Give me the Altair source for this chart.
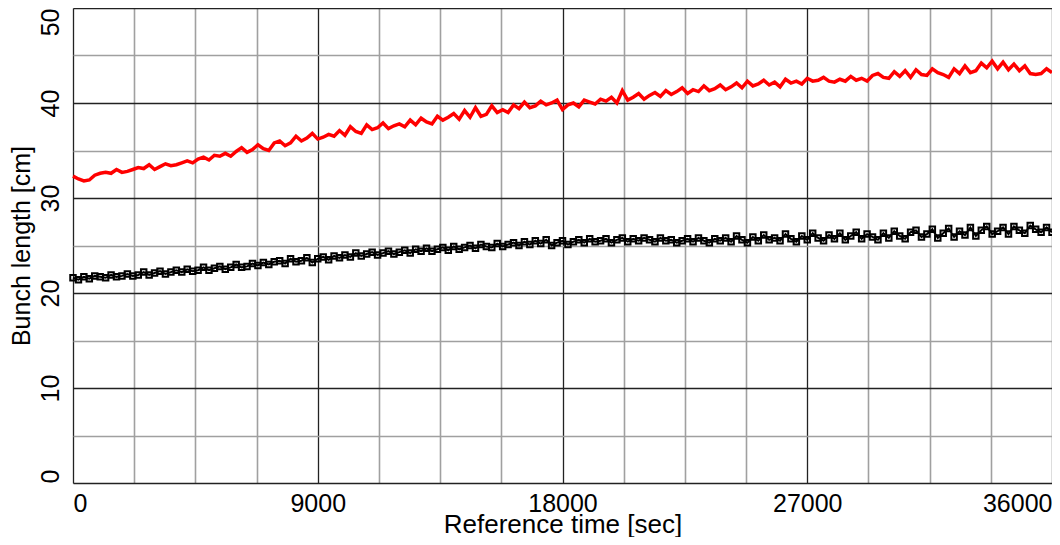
import altair as alt
import pandas as pd

STEP = 200  # seconds between samples
red_vals = [
    32.3, 32.0, 31.8, 31.9, 32.4, 32.6, 32.7, 32.6, 33.0, 32.7,
    32.8, 33.0, 33.2, 33.1, 33.5, 33.0, 33.3, 33.6, 33.4, 33.5,
    33.7, 33.9, 33.7, 34.1, 34.3, 34.0, 34.5, 34.4, 34.7, 34.4,
    34.9, 35.3, 34.8, 35.1, 35.6, 35.2, 35.0, 35.8, 36.0, 35.5,
    35.8, 36.5, 36.0, 36.3, 36.8, 36.2, 36.4, 36.7, 36.5, 37.1,
    36.6, 37.5, 37.0, 36.8, 37.7, 37.2, 37.4, 37.9, 37.3, 37.6,
    37.8, 37.5, 38.2, 37.7, 38.4, 38.0, 37.8, 38.6, 38.2, 38.5,
    38.9, 38.3, 39.2, 38.5, 39.5, 38.6, 38.8, 39.7, 39.0, 39.3,
    39.0, 39.8, 39.4, 40.1, 39.5, 39.7, 40.2, 39.8, 40.0, 40.3,
    39.3, 39.8, 40.0, 39.6, 40.3, 40.1, 39.9, 40.4, 40.2, 40.6,
    40.0, 41.3, 40.3, 40.6, 41.0, 40.4, 40.8, 41.1, 40.7, 41.3,
    40.9, 41.2, 41.6, 41.0, 41.4, 41.2, 41.8, 41.3, 41.5, 41.9,
    41.4, 41.7, 42.1, 41.6, 42.3, 41.8, 42.0, 42.4, 41.9, 42.2,
    41.7, 42.5, 42.1, 42.3, 42.0, 42.6, 42.3, 42.4, 42.7, 42.3,
    42.2, 42.5, 42.3, 42.8, 42.4, 42.6, 42.3, 42.9, 43.1, 42.7,
    42.6, 43.3, 42.8, 43.4, 42.7, 43.5, 43.0, 42.9, 43.6, 43.2,
    43.0, 42.7, 43.6, 43.1, 43.9, 43.2, 43.4, 44.2, 43.7, 44.4,
    43.6, 44.3, 43.5, 44.1, 43.4, 43.9, 43.1, 43.0, 43.1, 43.6,
    43.2,
]
black_vals = [
    21.6, 21.4, 21.7, 21.5, 21.8, 21.7, 21.6, 21.9, 21.7, 21.8,
    22.0, 21.8, 21.9, 22.2, 21.9, 22.1, 22.3, 22.0, 22.2, 22.4,
    22.2, 22.5, 22.3, 22.4, 22.7, 22.4, 22.6, 22.8, 22.5, 22.7,
    23.0, 22.7, 22.8, 23.1, 22.9, 23.2, 23.0, 23.3, 23.4, 23.1,
    23.6, 23.3, 23.4, 23.7, 23.2, 23.6, 23.8, 23.5, 23.9, 23.7,
    24.0, 23.8, 24.2, 23.9, 24.1, 24.3, 24.0, 24.2, 24.4, 24.1,
    24.3, 24.5, 24.2, 24.6, 24.4, 24.7, 24.4, 24.6, 24.8, 24.5,
    24.9, 24.6, 24.8, 25.0, 24.7, 25.1, 24.9, 24.8, 25.2, 24.9,
    25.1, 25.3, 25.0, 25.4, 25.1, 25.5, 25.2, 25.6, 25.0, 25.3,
    25.5, 25.1, 25.4, 25.6, 25.3, 25.7, 25.4, 25.5, 25.7, 25.3,
    25.6, 25.8, 25.4, 25.7, 25.5, 25.8, 25.6, 25.4, 25.8, 25.5,
    25.6, 25.3, 25.5, 25.7, 25.4, 25.8, 25.5, 25.3, 25.7, 25.5,
    25.8, 25.4, 26.0, 25.6, 25.3, 25.9, 25.5, 26.1, 25.6, 25.8,
    25.5, 26.2, 25.7, 25.4, 26.0, 25.6, 26.3, 25.8, 25.5, 26.1,
    25.7, 26.3, 25.6, 26.0, 26.4, 25.7, 26.2, 25.9, 25.6, 26.3,
    25.8, 26.5, 26.0, 25.7, 26.4, 26.6, 25.9, 26.2, 26.7, 25.8,
    26.3, 26.8, 25.9, 26.5, 26.1, 26.9, 26.0, 26.6, 27.0, 26.2,
    26.5, 26.9, 26.2, 27.0, 26.6, 26.3, 27.1, 26.7, 26.4, 26.9,
    26.4,
]
x_ticks = [i * 2250 for i in range(17)]
y_ticks = [i * 5 for i in range(11)]

times = [i * STEP for i in range(len(red_vals))]
df_red = pd.DataFrame({"t": times, "v": red_vals})
df_black = pd.DataFrame({"t": times[:len(black_vals)], "v": black_vals})

FONT = "Liberation Sans"

xenc = alt.X(
    "t:Q",
    scale=alt.Scale(domain=[0, 36000], nice=False, zero=False),
    axis=alt.Axis(
        values=x_ticks,
        format="d",
        labelExpr="datum.value % 9000 === 0 ? datum.label : ''",
        labelFlush=True,
        labelOverlap=False,
        labelFontSize=25,
        labelColor="black",
        labelFont=FONT,
        labelPadding=8,
        ticks=False,
        domain=False,
        title="Reference time [sec]",
        titleFontSize=26,
        titleFont=FONT,
        titleFontWeight="normal",
        titleColor="black",
        titleBaseline="alphabetic",
        titleY=49,
        gridColor={"condition": {"test": "datum.value % 9000 === 0", "value": "#222222"}, "value": "#a0a0a0"},
        gridWidth={"condition": {"test": "datum.value % 9000 === 0", "value": 1.3}, "value": 1.6},
        gridOpacity=1,
    ),
)
yenc = alt.Y(
    "v:Q",
    scale=alt.Scale(domain=[0, 50], nice=False),
    axis=alt.Axis(
        values=y_ticks,
        labelExpr="datum.value % 10 === 0 ? datum.label : ''",
        labelFlush=False,
        labelOverlap=False,
        labelAngle=270,
        labelAlign={"condition": [{"test": "datum.value === 50", "value": "right"},
                                  {"test": "datum.value === 0", "value": "left"}],
                    "value": "center"},
        labelBaseline="bottom",
        labelFontSize=25,
        labelColor="black",
        labelFont=FONT,
        labelPadding=10,
        ticks=False,
        domain=False,
        title="Bunch length [cm]",
        titleFontSize=25,
        titleFont=FONT,
        titleFontWeight="normal",
        titleColor="black",
        titlePadding=4,
        gridColor={"condition": {"test": "datum.value % 10 === 0", "value": "#222222"}, "value": "#a0a0a0"},
        gridWidth={"condition": {"test": "datum.value % 10 === 0", "value": 1.3}, "value": 1.6},
        gridOpacity=1,
    ),
)

black_line = alt.Chart(df_black).mark_line(color="black", strokeWidth=2).encode(x=xenc, y=yenc)
black_pts = alt.Chart(df_black).mark_point(
    shape="square", filled=False, color="black", size=30, strokeWidth=2, opacity=1
).encode(x="t:Q", y="v:Q")
red_line = alt.Chart(df_red).mark_line(color="#ff0000", strokeWidth=3.5).encode(x="t:Q", y="v:Q")

chart = (
    alt.layer(black_line, black_pts, red_line)
    .properties(
        width=979,
        height=475,
        autosize=alt.AutoSizeParams(type="none"),
        padding={"left": 65, "top": 0, "right": 0, "bottom": 54},
    )
    .configure_view(stroke="black", strokeWidth=2)
    .configure(background="white")
)

chart.save("out.html", embed_options={"renderer": "svg", "actions": False})
